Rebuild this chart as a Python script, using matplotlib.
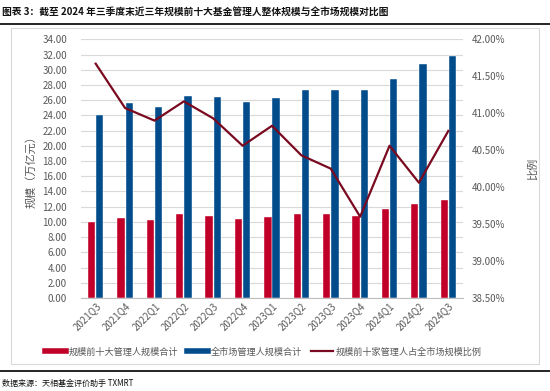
import numpy as np
import matplotlib
matplotlib.use("Agg")
import matplotlib.pyplot as plt
from matplotlib.patches import Rectangle
from matplotlib.lines import Line2D
from matplotlib.ticker import FuncFormatter, MultipleLocator

plt.rcParams['font.family'] = ['Noto Sans CJK SC', 'DejaVu Sans']

# ── データ ──────────────────────────────────────────
quarters = ["2021Q3", "2021Q4", "2022Q1", "2022Q2", "2022Q3", "2022Q4", "2023Q1",
            "2023Q2", "2023Q3", "2023Q4", "2024Q1", "2024Q2", "2024Q3"]
top10_scale = [10.0, 10.5, 10.25, 11.0, 10.8, 10.4, 10.7, 11.0, 11.0, 10.8, 11.65, 12.3, 12.9]
market_scale = [24.1, 25.6, 25.1, 26.6, 26.4, 25.7, 26.3, 27.4, 27.3, 27.3, 28.8, 30.8, 31.75]
top10_ratio = [41.67, 41.07, 40.90, 41.16, 40.93, 40.56, 40.83, 40.43, 40.25, 39.60, 40.56, 40.06, 40.76]

RED = "#C00028"
BLUE = "#024C8C"
DARK = "#7A0A20"
GRAY = "#595959"

W, H = 550, 391
fig = plt.figure(figsize=(W / 100, H / 100), dpi=100)

# ── 枠・タイトル ──────────────────────────────────────
fig.text(2 / W, 1 - 12 / H, "图表 3：截至 2024 年三季度末近三年规模前十大基金管理人整体规模与全市场规模对比图",
         fontsize=7.0, fontweight="bold", va="center", ha="left", color="#111111")
fig.add_artist(Line2D([0, 1], [1 - 23.5 / H, 1 - 23.5 / H], color="black", lw=1.2))
fig.add_artist(Rectangle((10.5 / W, 1 - 364 / H), (539 - 10.5) / W, (364 - 28) / H,
                         fill=False, edgecolor="#D9D9D9", lw=0.8))
fig.add_artist(Line2D([0, 1], [1 - 371 / H, 1 - 371 / H], color="black", lw=1.2))
fig.text(2 / W, 1 - 383 / H, "数据来源：天相基金评价助手 TXMRT", fontsize=5.8, va="center", ha="left",
         color="#111111")

# ── 本体 ────────────────────────────────────────────
ax = fig.add_axes([81 / W, 1 - 298 / H, (463 - 81) / W, (298 - 39.3) / H])
x = np.arange(len(quarters))
bw = 0.25
ax.bar(x - 0.14, top10_scale, bw, color=RED, edgecolor="white", linewidth=0.3,
       label="规模前十大管理人规模合计", zorder=2)
ax.bar(x + 0.14, market_scale, bw, color=BLUE, edgecolor="white", linewidth=0.3,
       label="全市场管理人规模合计", zorder=2)

ax.set_ylim(0, 34)
ax.set_xlim(-0.5, len(quarters) - 0.5)
ax.yaxis.set_major_locator(MultipleLocator(2))
ax.yaxis.set_major_formatter(FuncFormatter(lambda v, p: f"{v:.2f}"))
ax.grid(axis="y", color="#D9D9D9", lw=0.8, zorder=0)
ax.set_axisbelow(True)
for s in ["top", "left", "right"]:
    ax.spines[s].set_visible(False)
ax.spines["bottom"].set_color("#BFBFBF")
ax.tick_params(axis="y", length=0, labelsize=7, labelcolor=GRAY, pad=10)
ax.tick_params(axis="x", length=0, labelsize=7, labelcolor=GRAY, pad=2)
ax.set_xticks(x)
ax.set_xticklabels(quarters, rotation=45, ha="right", rotation_mode="anchor")
ax.set_ylabel("规模（万亿元）", fontsize=8, color=GRAY, labelpad=4)

ax2 = ax.twinx()
ax2.plot(x, top10_ratio, color=DARK, lw=1.6, label="规模前十家管理人占全市场规模比例", zorder=3)
ax2.set_ylim(38.5, 42.0)
ax2.yaxis.set_major_locator(MultipleLocator(0.5))
ax2.yaxis.set_major_formatter(FuncFormatter(lambda v, p: f"{v:.2f}%"))
for s in ["top", "left", "right", "bottom"]:
    ax2.spines[s].set_visible(False)
ax2.tick_params(axis="y", length=0, labelsize=7, labelcolor=GRAY, pad=6)
ax2.set_ylabel("比例", fontsize=8, color=GRAY, labelpad=16)

# ── 凡例 ────────────────────────────────────────────
h1, l1 = ax.get_legend_handles_labels()
h2, l2 = ax2.get_legend_handles_labels()
handles = [Line2D([], [], color=RED, lw=4), Line2D([], [], color=BLUE, lw=4),
           Line2D([], [], color=DARK, lw=1.6)]
fig.legend(handles, l1 + l2, loc="center", bbox_to_anchor=(263 / W, 1 - 352 / H), ncol=3,
           frameon=False, fontsize=6.6, handlelength=2.3, handletextpad=0.3, columnspacing=1.0,
           labelcolor=GRAY)

fig.savefig("out.png", dpi=100)
